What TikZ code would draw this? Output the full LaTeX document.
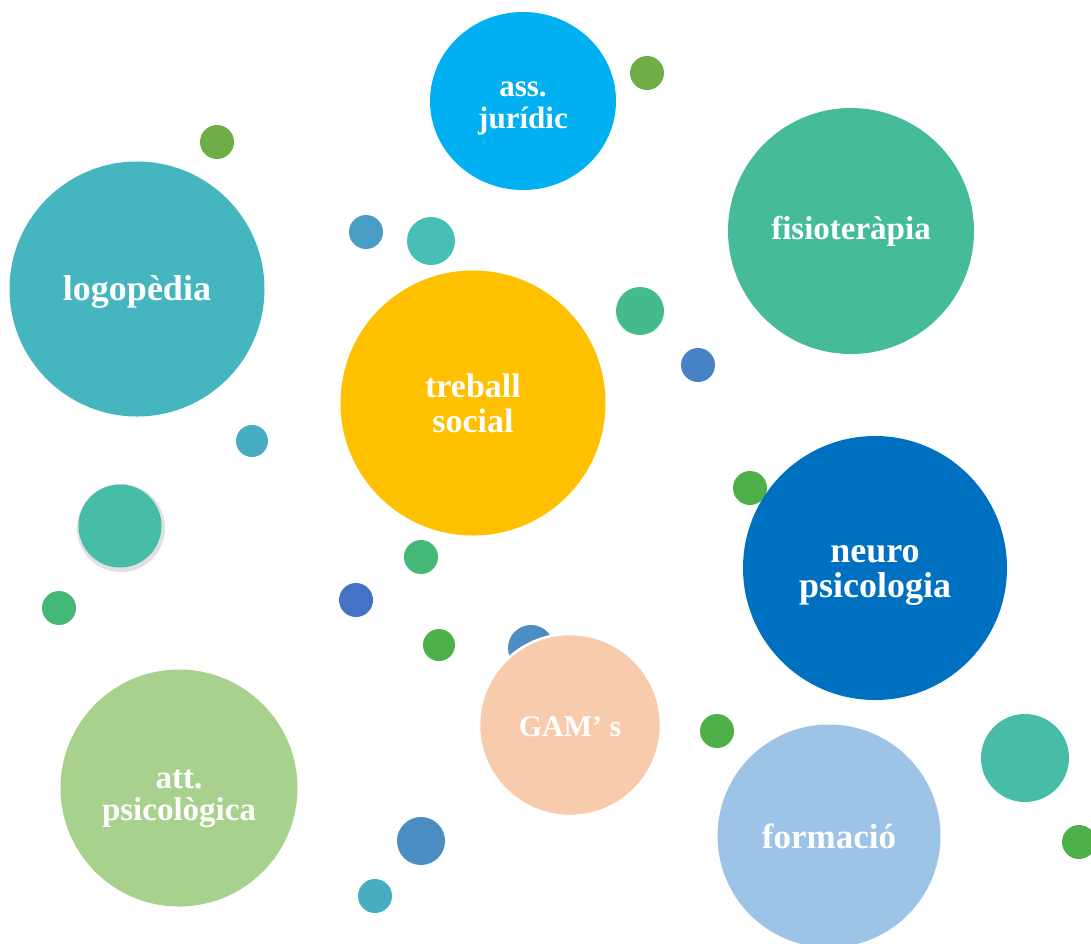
\documentclass[tikz,border=0pt]{standalone}
\usepackage{fontspec}
\setmainfont{Liberation Serif}
\usetikzlibrary{shapes.geometric}
\definecolor{cJur}{HTML}{00B0F0}
\definecolor{cLogo}{HTML}{45B5C0}
\definecolor{cFisio}{HTML}{45BB9A}
\definecolor{cTreb}{HTML}{FFC000}
\definecolor{cNeuro}{HTML}{0070C0}
\definecolor{cGam}{HTML}{F8CBAD}
\definecolor{cForm}{HTML}{9DC3E6}
\definecolor{cAtt}{HTML}{A9D18E}
\definecolor{gOlive}{HTML}{6FAD46}
\definecolor{gMid}{HTML}{44B877}
\definecolor{gMint}{HTML}{45BB8A}
\definecolor{gBright}{HTML}{4EB048}
\definecolor{bSky}{HTML}{479DC4}
\definecolor{bMid}{HTML}{4A8EC4}
\definecolor{bRoyal}{HTML}{4472C4}
\definecolor{bCorn}{HTML}{4682C4}
\definecolor{tTeal}{HTML}{47BDA8}
\definecolor{tAqua}{HTML}{47BFB5}
\definecolor{tCyan}{HTML}{46ADC2}
\tikzset{
  dot/.style={circle, inner sep=0pt, minimum size=#1},
  big/.style={circle, inner sep=0pt, minimum size=#1},
  lab/.style={text=white, align=center, inner sep=0pt},
}
\begin{document}
\begin{tikzpicture}[x=1pt,y=-1pt]
\useasboundingbox (0,0) rectangle (1091,943);
\clip (0,0) rectangle (1091,943);
% small dots
\node[dot=34, fill=gOlive] (d1) at (647,73) {};
\node[dot=34, fill=gOlive] (d2) at (217,142) {};
\node[dot=34, fill=bSky] (d3) at (366,232) {};
\node[dot=48, fill=tAqua] (d4) at (431,241) {};
\node[dot=48, fill=gMint] (d5) at (640,311) {};
\node[dot=34, fill=bCorn] (d6) at (698,365) {};
\node[dot=32, fill=tCyan] (d7) at (252,441) {};
\node[dot=88, fill=black!12] (d8s) at (121,528) {};
\node[dot=83, fill=tTeal] (d8) at (120,526) {};
\node[dot=34, fill=gBright] (d9) at (750,488) {};
\node[dot=34, fill=gMid] (d10) at (421,557) {};
\node[dot=34, fill=gMid] (d11) at (59,608) {};
\node[dot=34, fill=bRoyal] (d12) at (356,600) {};
\node[dot=32, fill=gBright] (d13) at (439,645) {};
\node[dot=46, fill=bMid] (d14) at (531,648) {};
\node[dot=34, fill=gBright] (d15) at (717,731) {};
\node[dot=88, fill=tTeal] (d16) at (1025,758) {};
\node[dot=34, fill=gBright] (d17) at (1079,842) {};
\node[dot=48, fill=bMid] (d18) at (421,841) {};
\node[dot=34, fill=tCyan] (d19) at (375,896) {};
% big circles
\node[ellipse, inner sep=0pt, minimum width=186, minimum height=178, fill=cJur] (jur) at (523,101) {};
\node[lab, font=\bfseries\fontsize{31}{32}\selectfont] (jurT) at ([yshift=-7pt]jur.center) {ass.\\jurídic};
\node[big=255, fill=cLogo] (logo) at (137,289) {};
\node[lab, font=\bfseries\fontsize{36}{36}\selectfont] (logoT) at ([yshift=-3pt]logo.center) {logopèdia};
\node[big=246, fill=cFisio] (fisio) at (851,231) {};
\node[lab, font=\bfseries\fontsize{33}{33}\selectfont] (fisioT) at (fisio.center) {fisioteràpia};
\node[big=265, fill=cTreb] (treb) at (473,403) {};
\node[lab, font=\bfseries\fontsize{34}{35}\selectfont] (trebT) at (treb.center) {treball\\social};
\node[big=264, fill=cNeuro] (neuro) at (875,568) {};
\node[lab, font=\bfseries\fontsize{36}{35}\selectfont] (neuroT) at ([yshift=-7pt]neuro.center) {neuro\\psicologia};
\node[big=182, fill=cGam, draw=white, line width=2.5pt] (gam) at (570,725) {};
\node[lab, font=\bfseries\fontsize{30}{30}\selectfont] (gamT) at ([yshift=-2pt]gam.center) {GAM’ s};
\node[big=223, fill=cForm] (form) at (829,836) {};
\node[lab, font=\bfseries\fontsize{35}{35}\selectfont] (formT) at (form.center) {formació};
\node[big=237, fill=cAtt] (att) at (179,788) {};
\node[lab, font=\bfseries\fontsize{33}{32}\selectfont] (attT) at ([yshift=-11pt]att.center) {att.\\psicològica};
\end{tikzpicture}
\end{document}
